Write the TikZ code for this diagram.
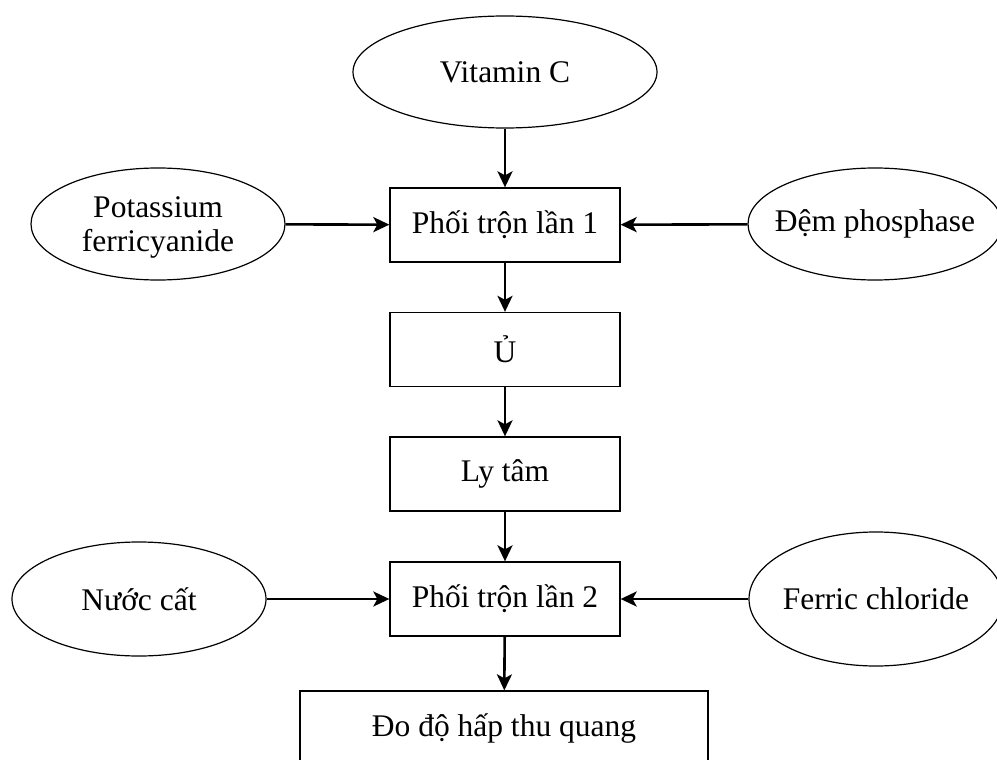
\documentclass[tikz,border=0pt]{standalone}
\usepackage{fontspec}
\setmainfont{Liberation Serif}
\usetikzlibrary{shapes.geometric,arrows.meta}
\begin{document}
\begin{tikzpicture}[x=1pt,y=-1pt,
  every node/.style={font=\fontsize{31.5}{36}\selectfont},
  every label/.style={align=center, inner sep=0pt},
  stepbox/.style={draw, line width=1.3pt, rectangle, minimum width=230pt, minimum height=74pt, inner sep=0pt},
  oval/.style={draw, ellipse, line width=1.2pt, inner sep=0pt},
  arr/.style={line width=2.6pt, -{Stealth[length=16pt,width=15pt,inset=4pt]}}]
\useasboundingbox (0,0) rectangle (997,760);
\clip (0,0) rectangle (997,760);
\node[oval, minimum width=304pt, minimum height=112pt, label=center:{Vitamin C}] (vit) at (505,72) {};
\node[stepbox] (mix1) at (505,225) {Phối trộn lần 1};
\node[oval, minimum width=254pt, minimum height=112pt, label={[yshift=-3pt]center:{Potassium\\[-2pt]ferricyanide}}] (pot) at (158,224) {};
\node[oval, minimum width=254pt, minimum height=112pt, label=center:{Đệm phosphase}] (dem) at (875,224) {};
\node[stepbox] (u) at (505,349.5) {Ủ};
\node[stepbox] (ly) at (505,474) {Ly tâm};
\node[stepbox] (mix2) at (505,599) {Phối trộn lần 2};
\node[oval, minimum width=254pt, minimum height=114pt, label=center:{Nước cất}] (nuoc) at (139,599) {};
\node[oval, minimum width=254pt, minimum height=134pt, label=center:{Ferric chloride}] (fer) at (876,599) {};
\node[stepbox, minimum width=408pt] (do) at (504,728) {Đo độ hấp thu quang};
\draw[arr] (vit) -- (mix1);
\draw[arr] (pot) -- (mix1);
\draw[arr] (dem) -- (mix1);
\draw[arr] (mix1) -- (u);
\draw[arr] (u) -- (ly);
\draw[arr] (ly) -- (mix2);
\draw[arr] (nuoc) -- (mix2);
\draw[arr] (fer) -- (mix2);
\draw[arr] (mix2) -- (do);
\end{tikzpicture}
\end{document}
